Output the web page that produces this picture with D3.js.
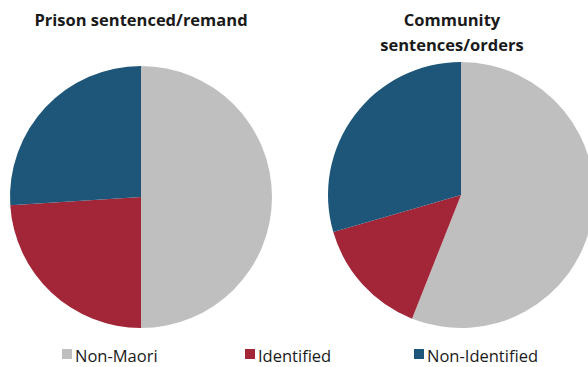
<!DOCTYPE html>
<html>
<head>
<meta charset="utf-8">
<script src="https://cdn.jsdelivr.net/npm/d3@7"></script>
<style>
  html, body { margin: 0; padding: 0; background: #fff; }
  svg { display: block; }
</style>
</head>
<body>
<svg id="chart" width="588" height="367"></svg>
<script>
const categories = ["Non-Maori", "Identified", "Non-Identified"];
const prisonValues = [50, 24, 26];
const communityValues = [56, 14.5, 29.5];
const prisonTitle = ["Prison sentenced/remand"];
const communityTitle = ["Community", "sentences/orders"];
const colors = ["#BFBFBF", "#A32638", "#1D5679"];

const svg = d3.select("#chart");
const color = d3.scaleOrdinal().domain(categories).range(colors);
const pie = d3.pie().sort(null).value(d => d.v);

const charts = [
  { values: prisonValues, title: prisonTitle, cx: 141, cy: 197, r: 131, tx: 141, ty: 26 },
  { values: communityValues, title: communityTitle, cx: 461, cy: 195, r: 133, tx: 452, ty: 26 }
];

charts.forEach(c => {
  const g = svg.append("g").attr("transform", `translate(${c.cx},${c.cy})`);
  const arc = d3.arc().innerRadius(0).outerRadius(c.r);
  const arcs = pie(c.values.map((v, i) => ({ cat: categories[i], v })));
  g.selectAll("path").data(arcs).join("path")
    .attr("d", arc)
    .attr("fill", d => color(d.data.cat));
  const t = svg.append("text")
    .attr("x", c.tx).attr("y", c.ty)
    .attr("text-anchor", "middle")
    .attr("font-family", "'Open Sans', sans-serif")
    .attr("font-weight", "bold")
    .attr("font-size", 16.5)
    .attr("fill", "#1a1a1a");
  c.title.forEach((line, i) => {
    t.append("tspan").attr("x", c.tx).attr("dy", i === 0 ? 0 : 25).text(line);
  });
});

const legendX = [62, 245, 414];
const lg = svg.append("g");
categories.forEach((cat, i) => {
  lg.append("rect").attr("x", legendX[i]).attr("y", 349).attr("width", 10).attr("height", 10)
    .attr("fill", color(cat));
  lg.append("text").attr("x", legendX[i] + 13).attr("y", 362)
    .attr("font-family", "'Open Sans', sans-serif")
    .attr("font-size", 16.5)
    .attr("fill", "#1a1a1a")
    .text(cat);
});
</script>
</body>
</html>
